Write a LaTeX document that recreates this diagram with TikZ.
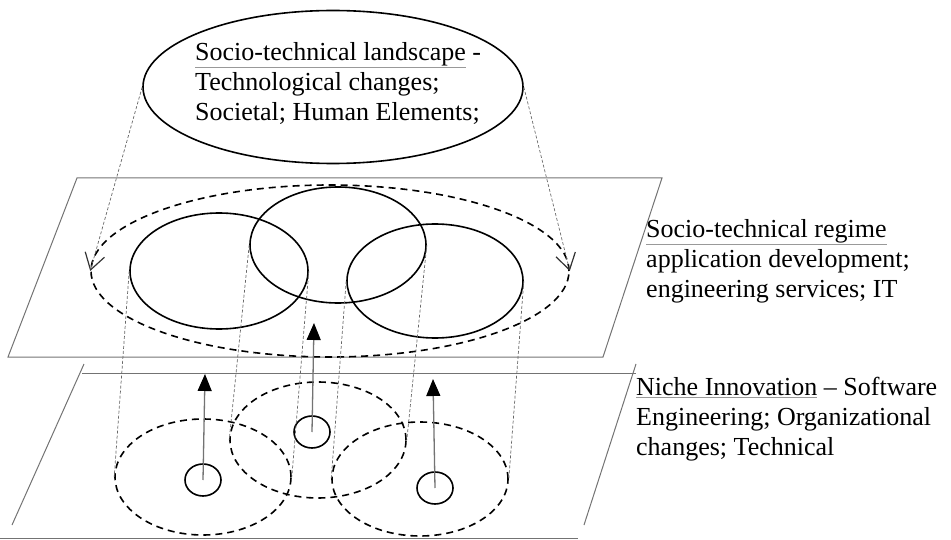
\documentclass[tikz,border=0pt]{standalone}
\usepackage{fontspec}
\setmainfont{Liberation Serif}
\usetikzlibrary{shapes.geometric,arrows.meta}
\newcommand\gul[1]{{\color{black!40}\underline{\color{black}#1}}}
\begin{document}
\begin{tikzpicture}[x=1pt,y=-1pt,
  plane/.style={draw=black!55, line width=1pt},
  solidell/.style={ellipse, draw, line width=1.6pt, inner sep=0pt},
  dashell/.style={ellipse, draw, line width=1.6pt, dash pattern=on 7pt off 5pt, inner sep=0pt},
  smallc/.style={ellipse, draw, line width=1.6pt, inner sep=0pt, minimum width=36pt, minimum height=32pt},
  guide/.style={draw=black!60, line width=0.7pt, dash pattern=on 3pt off 2pt},
  guidearrow/.style={guide, -{Straight Barb[length=16pt,width=20pt,line width=1.2pt,color=black!80]}},
  uparrow/.style={draw=black!55, line width=1.3pt, -{Triangle[width=14pt,length=17pt,color=black]}},
  lbl/.style={align=left, inner sep=0pt, anchor=north west, font=\fontsize{26}{30}\selectfont}
]
\useasboundingbox (0,0) rectangle (951,540);
% planes
\draw[plane] (8,357) -- (77,178) -- (662,178) -- (603,357) -- cycle;
\draw[plane] (82,373) -- (636,373);
\draw[plane] (84,364) -- (12,525);
\draw[plane] (636,364) -- (584,525);
\draw[plane] (0,538) -- (578,538);
% landscape
\node[ellipse, draw, line width=1.6pt, inner sep=0pt, minimum width=380pt, minimum height=153pt] (land) at (333,87) {};
\node[lbl] (landtxt) at (195,42) {\gul{Socio-technical landscape} -\\Technological changes;\\Societal; Human Elements;};
% regime
\node[dashell, minimum width=478pt, minimum height=172pt] (big) at (330,271) {};
\node[solidell, minimum width=178pt, minimum height=116pt] (uL) at (219,271) {};
\node[solidell, minimum width=176pt, minimum height=116pt] (uM) at (338,245) {};
\node[solidell, minimum width=176pt, minimum height=114pt] (uR) at (435,281) {};
% niches
\node[dashell, minimum width=176pt, minimum height=116pt] (lL) at (203,477) {};
\node[dashell, minimum width=176pt, minimum height=116pt] (lM) at (318,440) {};
\node[dashell, minimum width=176pt, minimum height=114pt] (lR) at (420,479) {};
\node[smallc] (sL) at (203,480) {};
\node[smallc] (sM) at (312,432) {};
\node[smallc] (sR) at (435,488) {};
% guides
\draw[guidearrow] (land.west) -- (big.west);
\draw[guidearrow] (land.east) -- (big.east);
\draw[guide] (uL.west) -- (lL.west);
\draw[guide] (uL.east) -- (lL.east);
\draw[guide] (uM.west) -- (lM.west);
\draw[guide] (uM.east) -- (lM.east);
\draw[guide] (uR.west) -- (lR.west);
\draw[guide] (uR.east) -- (lR.east);
% arrows
\coordinate (tL) at (205,374);
\coordinate (tM) at (314,323);
\coordinate (tR) at (433,379);
\draw[uparrow] (sL.center) -- (tL);
\draw[uparrow] (sM.center) -- (tM);
\draw[uparrow] (sR.center) -- (tR);
% labels
\node[lbl] (regtxt) at (646,219) {\gul{Socio-technical regime}\\application development;\\engineering services; IT};
\node[lbl] (nichetxt) at (636,377) {\gul{Niche Innovation} -- Software\\Engineering; Organizational\\changes; Technical};
\end{tikzpicture}
\end{document}
